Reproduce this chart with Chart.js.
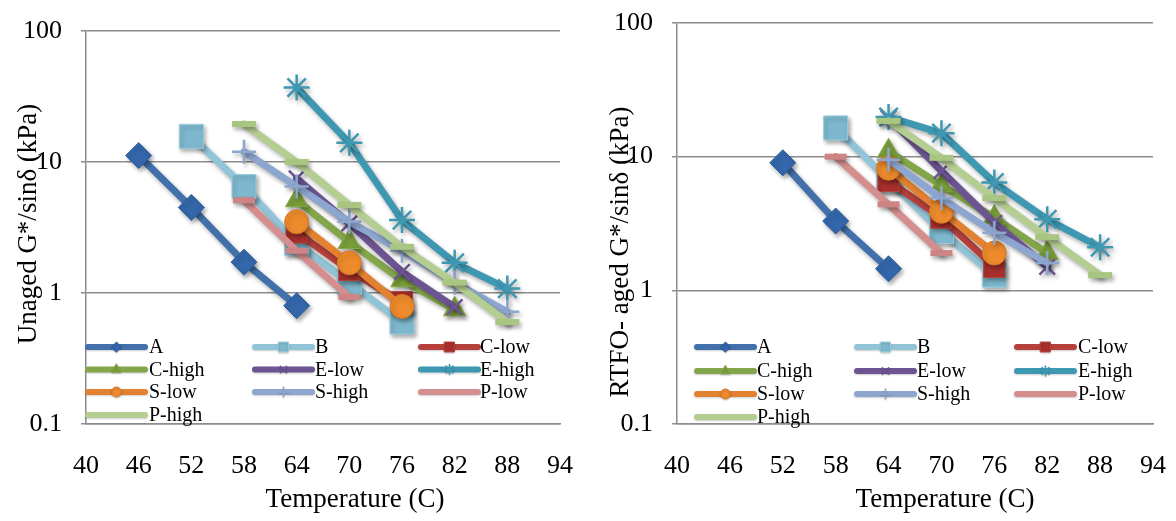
<!DOCTYPE html>
<html><head><meta charset="utf-8">
<script src="https://cdn.jsdelivr.net/npm/chart.js@4.4.1/dist/chart.umd.min.js"></script>
<style>
html,body{margin:0;padding:0;background:#fff;}
#wrap{position:relative;width:1176px;height:521px;overflow:hidden;background:#fff;}
canvas{position:absolute;top:0;}
#c1{left:0;} #c2{left:588px;}
</style></head><body>
<div id="wrap"><canvas id="c1" width="588" height="521"></canvas><canvas id="c2" width="588" height="521"></canvas></div>
<script>
// ---------- labels / ticks ----------
const SERIES_NAMES = ['A','B','C-low','C-high','E-low','E-high','S-low','S-high','P-low','P-high'];
const X_TICKS = [40, 46, 52, 58, 64, 70, 76, 82, 88, 94];
const Y_TICKS = [0.1, 1, 10, 100];
const Y_TICK_LABELS = ['0.1', '1', '10', '100'];
const X_TITLE = 'Temperature (C)';
const Y_TITLE_UNAGED = 'Unaged G*/sin\u03b4 (kPa)';
const Y_TITLE_RTFO = 'RTFO- aged G*/sin\u03b4 (kPa)';

// ---------- Unaged (left chart): temperatures (C) and G*/sin(delta) (kPa) ----------
const U_A_T = [46, 52, 58, 64];            const U_A_G = [11.2, 4.5, 1.72, 0.80];
const U_B_T = [52, 58, 64, 70, 76];        const U_B_G = [15.7, 6.5, 2.4, 1.2, 0.6];
const U_CL_T = [64, 70, 76];               const U_CL_G = [2.9, 1.5, 0.85];
const U_CH_T = [64, 70, 76, 82];           const U_CH_G = [5.1, 2.45, 1.25, 0.75];
const U_EL_T = [64, 70, 76, 82];           const U_EL_G = [7.5, 3.4, 1.45, 0.78];
const U_EH_T = [64, 70, 76, 82, 88];       const U_EH_G = [37, 14, 3.6, 1.7, 1.08];
const U_SL_T = [64, 70, 76];               const U_SL_G = [3.5, 1.7, 0.79];
const U_SH_T = [58, 64, 70, 76, 82, 88];   const U_SH_G = [12, 6.5, 3.5, 2.1, 1.2, 0.72];
const U_PL_T = [58, 64, 70];               const U_PL_G = [5.1, 2.1, 0.93];
const U_PH_T = [58, 64, 70, 76, 82, 88];   const U_PH_G = [19.5, 10, 4.7, 2.25, 1.2, 0.6];

// ---------- RTFO-aged (right chart) ----------
const R_A_T = [52, 58, 64];                const R_A_G = [9, 3.3, 1.45];
const R_B_T = [58, 64, 70, 76];            const R_B_G = [16.4, 6.7, 2.75, 1.3];
const R_CL_T = [64, 70, 76];               const R_CL_G = [6.6, 3.5, 1.5];
const R_CH_T = [64, 70, 76, 82];           const R_CH_G = [11, 6.1, 3.5, 1.9];
const R_EL_T = [64, 70, 76, 82];           const R_EL_G = [19.5, 7.8, 3.2, 1.5];
const R_EH_T = [64, 70, 76, 82, 88];       const R_EH_G = [19.8, 15, 6.4, 3.4, 2.1];
const R_SL_T = [64, 70, 76];               const R_SL_G = [8.2, 3.9, 1.9];
const R_SH_T = [64, 70, 76, 82];           const R_SH_G = [9.5, 4.9, 2.7, 1.6];
const R_PL_T = [58, 64, 70];               const R_PL_G = [10, 4.4, 1.9];
const R_PH_T = [64, 70, 76, 82, 88];       const R_PH_G = [18.5, 9.8, 4.9, 2.5, 1.3];

const UNAGED_T = [U_A_T, U_B_T, U_CL_T, U_CH_T, U_EL_T, U_EH_T, U_SL_T, U_SH_T, U_PL_T, U_PH_T];
const UNAGED_G = [U_A_G, U_B_G, U_CL_G, U_CH_G, U_EL_G, U_EH_G, U_SL_G, U_SH_G, U_PL_G, U_PH_G];
const RTFO_T = [R_A_T, R_B_T, R_CL_T, R_CH_T, R_EL_T, R_EH_T, R_SL_T, R_SH_T, R_PL_T, R_PH_T];
const RTFO_G = [R_A_G, R_B_G, R_CL_G, R_CH_G, R_EL_G, R_EH_G, R_SL_G, R_SH_G, R_PL_G, R_PH_G];

// ---------- styles ----------
const STYLES = [
  {line:'#4170AA', fill:'#3366AA', stroke:'#2D5E9E', ps:'rectRot', r:13, bw:1, lr:5},
  {line:'#92C4D8', fill:'#7DB8CE', stroke:'#9CCEE0', ps:'rect', r:17, bw:1, lr:7},
  {line:'#B5403C', fill:'#A8302C', stroke:'#B8403C', ps:'rect', r:15, bw:1, lr:7},
  {line:'#84A64A', fill:'#7A9E3A', stroke:'#86AA48', ps:'triangle', r:13, bw:1, lr:5.5},
  {line:'#6C5492', fill:'#6C5492', stroke:'#6C5492', ps:'crossRot', r:11, bw:2.5, lr:4.5},
  {line:'#3E98B2', fill:'#3E98B2', stroke:'#3E98B2', ps:'star', r:13, bw:2.5, lr:5},
  {line:'#E28130', fill:'#EC8A2C', stroke:'#D97824', ps:'circle', r:12, bw:1, lr:5},
  {line:'#8DA6CF', fill:'#8DA6CF', stroke:'#8DA6CF', ps:'cross', r:12, bw:2.5, lr:5},
  {line:'#D48E8D', fill:'#D48E8D', stroke:'#CC8584', ps:'line', r:11, bw:6, lr:0},
  {line:'#B4CD90', fill:'#A9C582', stroke:'#A9C582', ps:'line', r:12, bw:6, lr:0}
];
const GRID = '#8C8C8C';
const FONT = 'Liberation Serif, Times New Roman, serif';

function buildDatasets(TS, GS) {
  return SERIES_NAMES.map((name, i) => {
    const s = STYLES[i];
    return {
      label: name,
      data: TS[i].map((t, k) => ({x: t, y: GS[i][k]})),
      borderColor: s.line, backgroundColor: s.fill,
      borderWidth: 7, borderCapStyle: 'round', borderJoinStyle: 'round',
      pointStyle: s.ps, pointRadius: s.r, pointHoverRadius: s.r,
      pointBackgroundColor: s.fill, pointBorderColor: s.stroke, pointBorderWidth: s.bw,
      tension: 0, fill: false, clip: false,
      order: SERIES_NAMES.length - i
    };
  });
}

const shadowPlugin = {
  id: 'shadow',
  beforeDatasetsDraw(chart) {
    const c = chart.ctx; c.save();
    c.shadowColor = 'rgba(0,0,0,0.33)'; c.shadowBlur = 4; c.shadowOffsetX = 2; c.shadowOffsetY = 3;
  },
  afterDatasetsDraw(chart) { chart.ctx.restore(); }
};

const gridLegendPlugin = {
  id: 'gridLegend',
  afterDraw(chart, args, opts) {
    const ctx = chart.ctx;
    chart.data.datasets.forEach((ds, i) => {
      const s = STYLES[i];
      const col = i % 3, row = Math.floor(i / 3);
      const x0 = opts.lineX[col], y = opts.rows[row];
      ctx.save();
      ctx.shadowColor = 'rgba(0,0,0,0.2)'; ctx.shadowBlur = 2; ctx.shadowOffsetY = 1;
      ctx.strokeStyle = ds.borderColor; ctx.lineWidth = 6; ctx.lineCap = 'round';
      ctx.beginPath(); ctx.moveTo(x0, y); ctx.lineTo(x0 + opts.len, y); ctx.stroke();
      if (s.lr > 0 && Chart.helpers && Chart.helpers.drawPoint) {
        ctx.fillStyle = s.fill; ctx.strokeStyle = s.stroke;
        ctx.lineWidth = s.bw > 1 ? 1.5 : 1;
        Chart.helpers.drawPoint(ctx, {pointStyle: s.ps, radius: s.lr, rotation: 0, borderWidth: ctx.lineWidth}, x0 + opts.len / 2, y);
      }
      ctx.restore();
      ctx.save();
      ctx.fillStyle = '#000'; ctx.font = opts.fontSize + 'px ' + FONT;
      ctx.textAlign = 'left'; ctx.textBaseline = 'middle';
      ctx.fillText(ds.label, opts.textX[col], y + 1);
      ctx.restore();
    });
  }
};

const axisTitlePlugin = {
  id: 'axisTitles',
  afterDraw(chart, args, opts) {
    const ctx = chart.ctx;
    const items = [
      {text: chart.options.scales.x.title.text, x: opts.xTitle[0], y: opts.xTitle[1], rot: 0},
      {text: chart.options.scales.y.title.text, x: opts.yTitle[0], y: opts.yTitle[1], rot: -Math.PI / 2}
    ];
    items.forEach(it => {
      ctx.save();
      ctx.translate(it.x, it.y); ctx.rotate(it.rot);
      ctx.fillStyle = '#000'; ctx.font = opts.fontSize + 'px ' + FONT;
      ctx.textAlign = 'center'; ctx.textBaseline = 'middle';
      ctx.fillText(it.text, 0, 0);
      ctx.restore();
    });
  }
};

function makeChart(canvas, datasets, cfg) {
  return new Chart(canvas, {
    type: 'line',
    data: {datasets},
    options: {
      responsive: false, animation: false, devicePixelRatio: 1,
      layout: {padding: {left: 0, top: cfg.top, right: cfg.right, bottom: 0}},
      plugins: {
        legend: {display: false}, tooltip: {enabled: false},
        gridLegend: cfg.legend,
        axisTitles: cfg.titles
      },
      scales: {
        x: {
          type: 'linear', min: 40, max: 94,
          afterBuildTicks: s => { s.ticks = X_TICKS.map(v => ({value: v})); },
          afterFit: s => { s.height = cfg.xHeight; s.paddingLeft = 0; s.paddingRight = 0; },
          grid: {display: false, drawTicks: false},
          border: {display: true, color: GRID, width: 1.5},
          ticks: {font: {family: FONT, size: 26}, color: '#000', padding: cfg.xPad, maxRotation: 0, autoSkip: false,
                  callback: v => String(v)},
          title: {display: false, text: X_TITLE}
        },
        y: {
          type: 'logarithmic', min: 0.1, max: 100,
          afterBuildTicks: s => { s.ticks = Y_TICKS.map(v => ({value: v})); },
          afterFit: s => { s.width = cfg.yWidth; s.paddingTop = 0; s.paddingBottom = 0; },
          grid: {color: GRID, lineWidth: 1.5, tickLength: 5, drawTicks: true, tickColor: GRID},
          border: {display: true, color: GRID, width: 1.5},
          ticks: {font: {family: FONT, size: 26}, color: '#000', padding: cfg.yPad, autoSkip: false,
                  callback: v => { const k = Y_TICKS.indexOf(v); return k >= 0 ? Y_TICK_LABELS[k] : ''; }},
          title: {display: false, text: cfg.yTitle}
        }
      }
    },
    plugins: [shadowPlugin, gridLegendPlugin, axisTitlePlugin]
  });
}

makeChart(document.getElementById('c1'), buildDatasets(UNAGED_T, UNAGED_G), {
  top: 31, right: 28, yWidth: 86, xHeight: 97, xPad: 27, yPad: 19,
  yTitle: Y_TITLE_UNAGED,
  legend: {lineX: [88, 255, 421], textX: [149, 315, 480], rows: [347, 369.5, 392, 415], len: 57, fontSize: 20},
  titles: {xTitle: [355, 500], yTitle: [29, 224], fontSize: 27}
});

makeChart(document.getElementById('c2'), buildDatasets(RTFO_T, RTFO_G), {
  top: 23, right: 23, yWidth: 89, xHeight: 97, xPad: 27, yPad: 19,
  yTitle: Y_TITLE_RTFO,
  legend: {lineX: [109, 269, 429], textX: [169, 329, 490], rows: [347, 371, 394, 417], len: 57, fontSize: 20},
  titles: {xTitle: [357, 500], yTitle: [33, 252], fontSize: 27}
});
</script>
</body></html>
